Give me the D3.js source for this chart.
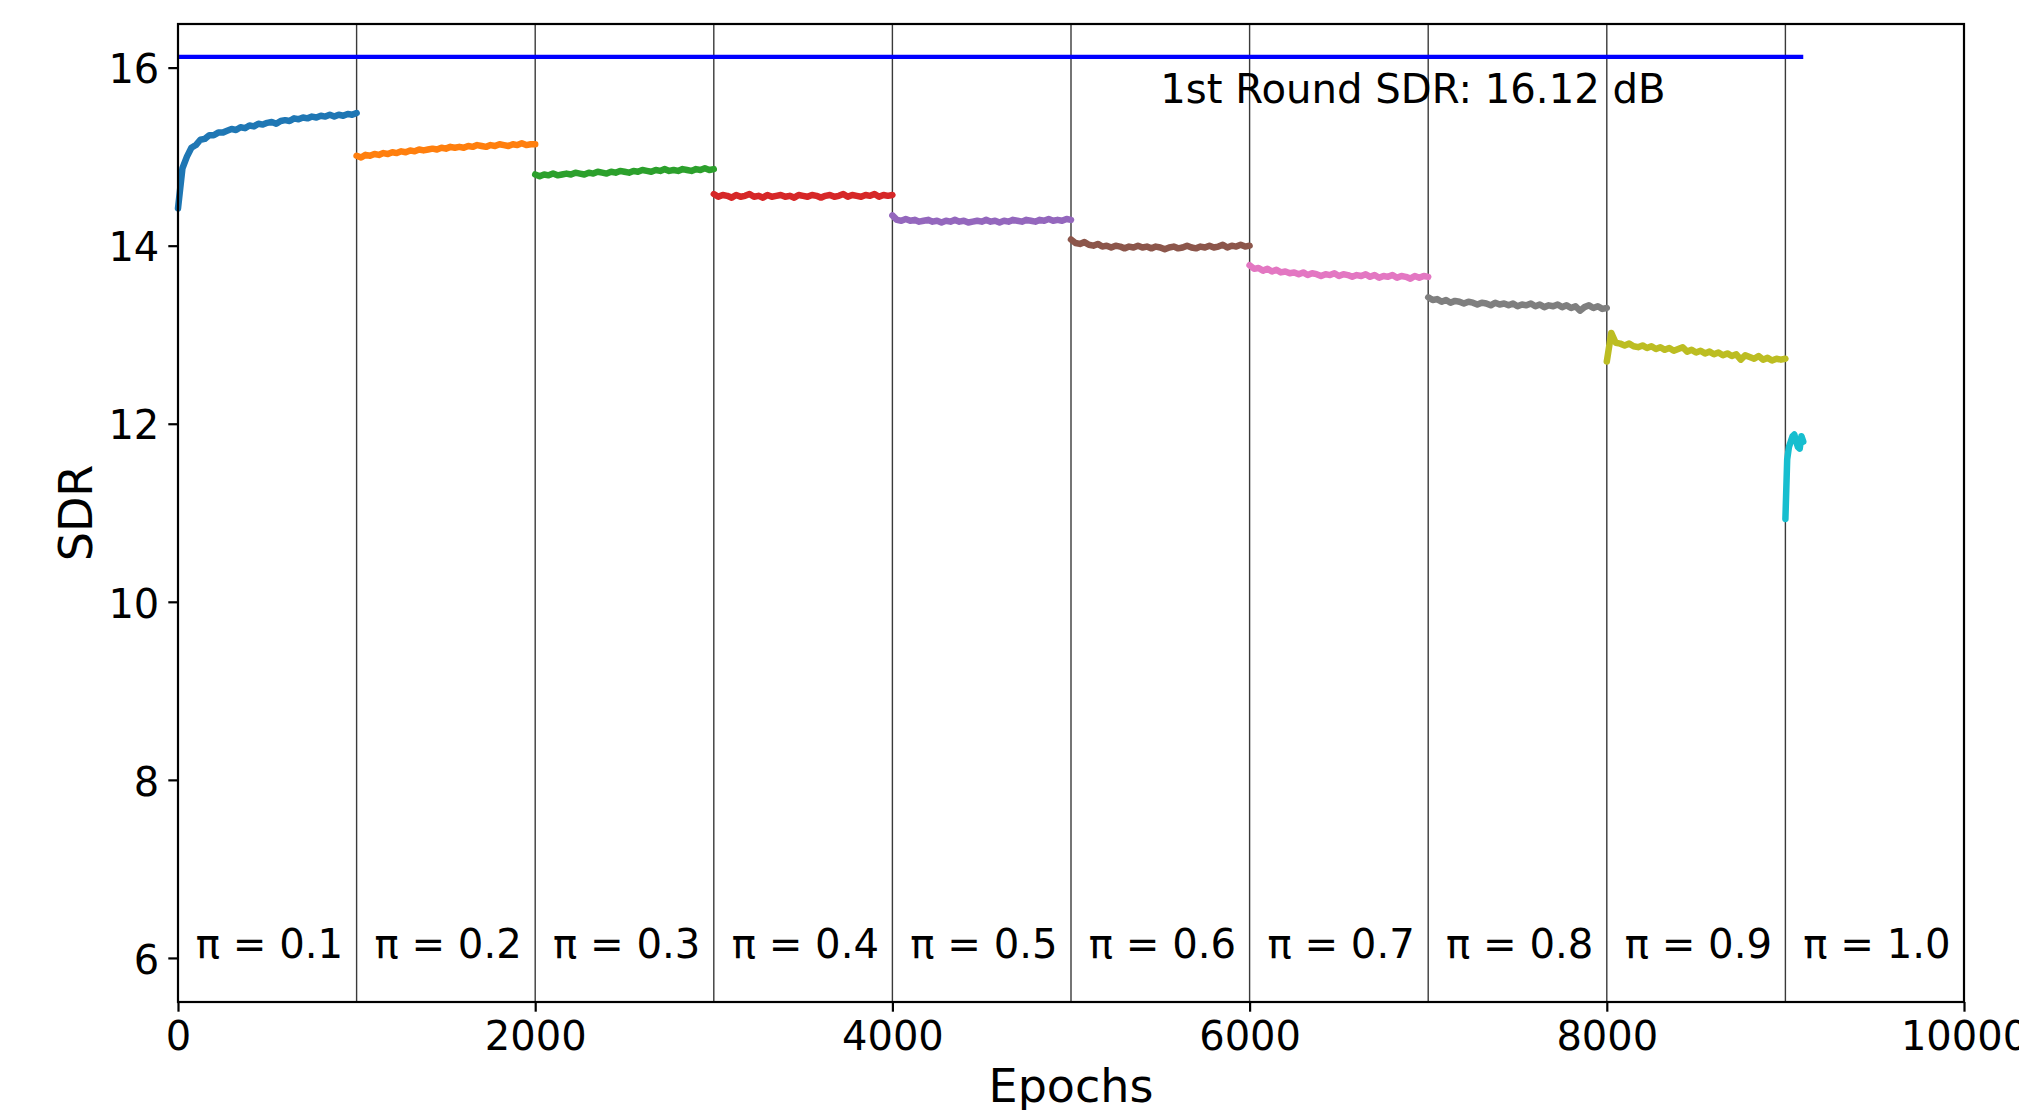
<!DOCTYPE html>
<html>
<head>
<meta charset="utf-8">
<script src="https://cdnjs.cloudflare.com/ajax/libs/d3/7.8.5/d3.min.js"></script>
<style>
    body { margin: 0; background: #fff; }
    text { font-family: "DejaVu Sans", sans-serif; fill: #000; }
</style>
</head>
<body>
<div id="chart"></div>
<script>
// SDR per epoch, one array per round (pi), sampled every 25 epochs
var sdrPi01 = [14.42, 14.87, 15.00, 15.10, 15.13, 15.19, 15.20, 15.24, 15.24, 15.27,
               15.27, 15.29, 15.31, 15.30, 15.33, 15.32, 15.35, 15.34, 15.37, 15.36,
               15.38, 15.39, 15.37, 15.40, 15.41, 15.40, 15.43, 15.42, 15.44, 15.43,
               15.45, 15.44, 15.46, 15.45, 15.47, 15.45, 15.47, 15.46, 15.48, 15.47, 15.49]
var sdrPi02 = [15.01, 14.99, 15.02, 15.01, 15.03, 15.02, 15.04, 15.03, 15.05, 15.04,
               15.06, 15.05, 15.07, 15.06, 15.08, 15.07, 15.08, 15.09, 15.08, 15.10,
               15.09, 15.11, 15.10, 15.11, 15.10, 15.12, 15.11, 15.13, 15.12, 15.11,
               15.13, 15.12, 15.14, 15.13, 15.12, 15.14, 15.13, 15.15, 15.13, 15.14, 15.14]
var sdrPi03 = [14.80, 14.78, 14.80, 14.79, 14.81, 14.79, 14.80, 14.81, 14.80, 14.82,
               14.81, 14.80, 14.82, 14.81, 14.83, 14.82, 14.81, 14.83, 14.82, 14.84,
               14.83, 14.82, 14.84, 14.83, 14.85, 14.84, 14.83, 14.85, 14.84, 14.86,
               14.84, 14.85, 14.84, 14.86, 14.85, 14.84, 14.86, 14.85, 14.87, 14.85, 14.86]
var sdrPi04 = [14.58, 14.55, 14.57, 14.56, 14.54, 14.57, 14.55, 14.56, 14.58, 14.55,
               14.56, 14.54, 14.57, 14.55, 14.56, 14.57, 14.55, 14.56, 14.54, 14.57,
               14.56, 14.55, 14.57, 14.56, 14.54, 14.56, 14.57, 14.55, 14.56, 14.58,
               14.55, 14.57, 14.56, 14.55, 14.57, 14.56, 14.58, 14.55, 14.57, 14.56, 14.57]
var sdrPi05 = [14.34, 14.29, 14.28, 14.30, 14.28, 14.29, 14.27, 14.28, 14.29, 14.27,
               14.28, 14.26, 14.28, 14.27, 14.29, 14.27, 14.28, 14.26, 14.27, 14.28,
               14.27, 14.29, 14.27, 14.28, 14.26, 14.28, 14.27, 14.29, 14.28, 14.27,
               14.29, 14.28, 14.27, 14.29, 14.28, 14.30, 14.28, 14.29, 14.28, 14.30, 14.29]
var sdrPi06 = [14.07, 14.03, 14.02, 14.04, 14.01, 14.00, 14.02, 13.99, 14.00, 13.98,
               14.00, 13.99, 13.97, 13.99, 13.98, 14.00, 13.98, 13.99, 13.97, 13.99,
               13.98, 13.96, 13.98, 13.99, 13.97, 13.98, 14.00, 13.98, 13.97, 13.99,
               13.98, 14.00, 13.98, 13.99, 14.01, 13.98, 14.00, 13.99, 14.01, 13.99, 14.00]
var sdrPi07 = [13.78, 13.74, 13.75, 13.72, 13.74, 13.71, 13.73, 13.70, 13.71, 13.69,
               13.70, 13.68, 13.70, 13.67, 13.69, 13.68, 13.66, 13.68, 13.67, 13.69,
               13.66, 13.68, 13.67, 13.65, 13.67, 13.66, 13.68, 13.65, 13.67, 13.64,
               13.66, 13.65, 13.67, 13.64, 13.66, 13.65, 13.63, 13.66, 13.64, 13.66, 13.65]
var sdrPi08 = [13.42, 13.39, 13.40, 13.37, 13.39, 13.36, 13.38, 13.37, 13.35, 13.37,
               13.36, 13.34, 13.36, 13.35, 13.33, 13.36, 13.34, 13.35, 13.33, 13.35,
               13.32, 13.34, 13.33, 13.35, 13.32, 13.34, 13.31, 13.33, 13.32, 13.34,
               13.31, 13.33, 13.30, 13.32, 13.27, 13.31, 13.33, 13.30, 13.32, 13.29, 13.30]
var sdrPi09 = [12.70, 13.02, 12.91, 12.90, 12.88, 12.90, 12.87, 12.86, 12.88, 12.85,
               12.87, 12.84, 12.86, 12.83, 12.85, 12.82, 12.84, 12.86, 12.81, 12.83,
               12.80, 12.82, 12.79, 12.81, 12.78, 12.80, 12.77, 12.79, 12.76, 12.78,
               12.72, 12.77, 12.75, 12.73, 12.76, 12.72, 12.74, 12.71, 12.73, 12.72, 12.73]
// last round only ran ~100 epochs, sampled every 10
var sdrPi10 = [10.93, 11.60, 11.74, 11.80, 11.86, 11.88, 11.80, 11.74, 11.72, 11.86, 11.80]

var rounds = [sdrPi01, sdrPi02, sdrPi03, sdrPi04, sdrPi05, sdrPi06, sdrPi07, sdrPi08, sdrPi09, sdrPi10]
var roundSteps = [25, 25, 25, 25, 25, 25, 25, 25, 25, 10]
var roundStarts = [0, 1000, 2000, 3000, 4000, 5000, 6000, 7000, 8000, 9000]
var piLabels = ['π = 0.1', 'π = 0.2', 'π = 0.3', 'π = 0.4', 'π = 0.5',
                'π = 0.6', 'π = 0.7', 'π = 0.8', 'π = 0.9', 'π = 1.0']
var firstRoundSdr = 16.12
var firstRoundEnd = 9100
var xTicks = [0, 2000, 4000, 6000, 8000, 10000]
var yTicks = [6, 8, 10, 12, 14, 16]

var margin = {top: 24, left: 178, right: 55, bottom: 108},
    width = 2019 - margin.left - margin.right,
    height = 1110 - margin.top - margin.bottom;

var svg = d3.select('#chart')
    .append('svg')
    .attr('width', width + margin.left + margin.right)
    .attr('height', height + margin.top + margin.bottom)
    .append('g')
    .attr('transform', 'translate(' + margin.left + ',' + margin.top + ')');

var x = d3.scaleLinear().domain([0, 10000]).range([0, width])
var y = d3.scaleLinear().domain([5.505, 16.49]).range([height, 0])

var color = d3.scaleOrdinal(d3.schemeCategory10)

// round boundaries
svg.selectAll('.bound')
    .data(roundStarts.slice(1))
    .enter().append('line')
    .attr('class', 'bound')
    .attr('x1', function(d) { return x(d) })
    .attr('x2', function(d) { return x(d) })
    .attr('y1', 0)
    .attr('y2', height)
    .style('stroke', '#3a3a3a')
    .style('stroke-width', 1.4)

var line = d3.line()
    .x(function(d) { return x(d[0]) })
    .y(function(d) { return y(d[1]) })

svg.selectAll('.round')
    .data(rounds)
    .enter().append('path')
    .attr('class', 'round')
    .attr('d', function(vals, i) {
        return line(vals.map(function(v, k) { return [roundStarts[i] + k * roundSteps[i], v] }))
    })
    .style('fill', 'none')
    .style('stroke', function(d, i) { return color(i) })
    .style('stroke-width', 6.5)
    .style('stroke-linejoin', 'round')
    .style('stroke-linecap', 'round')

// 1st round reference line
svg.append('path')
    .attr('d', line([[0, firstRoundSdr], [firstRoundEnd, firstRoundSdr]]))
    .style('stroke', '#0000ff')
    .style('stroke-width', 4.2)

svg.append('text')
    .attr('x', x(5500))
    .attr('y', y(15.6))
    .attr('font-size', '40.2px')
    .text('1st Round SDR: ' + firstRoundSdr + ' dB')

svg.selectAll('.pi')
    .data(piLabels)
    .enter().append('text')
    .attr('class', 'pi')
    .attr('x', function(d, i) { return x(roundStarts[i] + 100) })
    .attr('y', y(6))
    .attr('font-size', '40.2px')
    .text(function(d) { return d })

// axes
var xAxis = svg.append('g')
    .attr('transform', 'translate(0,' + height + ')')
    .call(d3.axisBottom(x).tickValues(xTicks).tickFormat(d3.format('d')).tickSize(9.7).tickPadding(9))
var yAxis = svg.append('g')
    .call(d3.axisLeft(y).tickValues(yTicks).tickFormat(d3.format('d')).tickSize(9.7).tickPadding(9))

xAxis.selectAll('text').attr('font-size', '40px').attr('dy', '0.74em').style('font-family', '"DejaVu Sans", sans-serif')
yAxis.selectAll('text').attr('font-size', '40px').attr('dy', '0.38em').style('font-family', '"DejaVu Sans", sans-serif')
svg.selectAll('.tick line').style('stroke-width', 2.2)
svg.selectAll('.domain').remove()

// frame
svg.append('rect')
    .attr('width', width)
    .attr('height', height)
    .style('fill', 'none')
    .style('stroke', '#000')
    .style('stroke-width', 2.2)

svg.append('text')
    .attr('x', width / 2)
    .attr('y', height + 100)
    .attr('text-anchor', 'middle')
    .attr('font-size', '46px')
    .text('Epochs')

svg.append('text')
    .attr('transform', 'translate(' + (92 - margin.left) + ',' + (height / 2) + ') rotate(-90)')
    .attr('text-anchor', 'middle')
    .attr('font-size', '46px')
    .text('SDR')
</script>
</body>
</html>
